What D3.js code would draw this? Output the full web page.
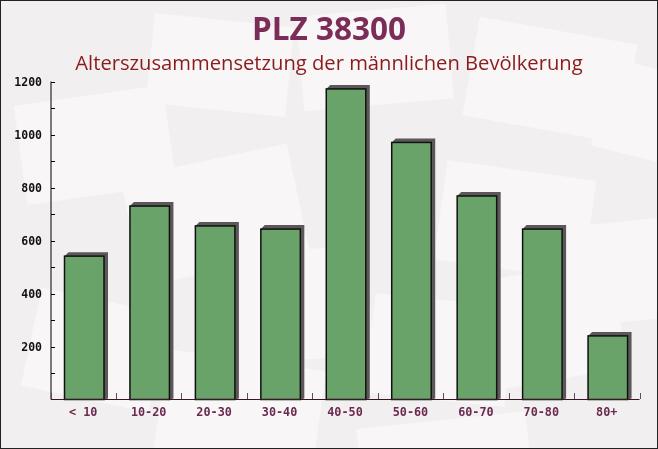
<!DOCTYPE html>
<html>
<head>
<meta charset="utf-8">
<script src="https://cdn.jsdelivr.net/npm/d3@7"></script>
<style>
html,body{margin:0;padding:0;background:#fff;}
svg{display:block;}
</style>
</head>
<body>
<svg id="chart" width="658" height="449"></svg>
<script>
const categories = ["< 10", "10-20", "20-30", "30-40", "40-50", "50-60", "60-70", "70-80", "80+"];
const values = [541, 730, 655, 643, 1172, 970, 768, 643, 240];
const yTicks = [200, 400, 600, 800, 1000, 1200];
const title = "PLZ 38300";
const subtitle = "Alterszusammensetzung der männlichen Bevölkerung";

const W = 658, H = 449;
const svg = d3.select("#chart");

// background
svg.append("rect").attr("width", W).attr("height", H).attr("fill", "#f2eff1");
const deco = svg.append("g").attr("fill", "#fbfafa").attr("opacity", 0.7);
const envs = [
  [20, 95, 150, 100, -8], [150, 20, 140, 90, 6], [300, 10, 150, 95, -5], [470, 30, 160, 100, 10],
  [130, 160, 170, 110, -12], [440, 170, 150, 100, 8], [580, 220, 120, 100, -6],
  [30, 300, 130, 100, 12], [220, 250, 150, 110, -4], [370, 300, 140, 100, 6], [480, 270, 140, 110, -10],
  [160, 360, 160, 100, 8], [360, 420, 170, 80, -6], [600, 70, 110, 90, 14]
];
envs.forEach(e => {
  deco.append("rect").attr("x", e[0]).attr("y", e[1]).attr("width", e[2]).attr("height", e[3])
    .attr("transform", `rotate(${e[4]},${e[0] + e[2] / 2},${e[1] + e[3] / 2})`);
});

// titles
svg.append("text").attr("x", 329).attr("y", 40).attr("text-anchor", "middle")
  .attr("font-family", "'Open Sans', sans-serif").attr("font-weight", "bold").attr("font-size", 31.5)
  .attr("fill", "#7b2c57").text(title);
svg.append("text").attr("x", 329).attr("y", 70).attr("text-anchor", "middle")
  .attr("font-family", "'Open Sans', sans-serif").attr("font-size", 20.2)
  .attr("fill", "#8b1a1a").text(subtitle);

// scales
const x = d3.scaleBand().domain(categories).range([50.5, 639.5]).padding(0);
const y = d3.scaleLinear().domain([0, 1200]).range([399.5, 81.5]);

// y axis
const yAxis = svg.append("g").attr("transform", "translate(51,0)");
yAxis.append("line").attr("x1", 0).attr("x2", 0).attr("y1", y(1200)).attr("y2", y(0))
  .attr("stroke", "#000").attr("stroke-width", 1);
d3.range(100, 1201, 100).forEach(v => {
  yAxis.append("line").attr("x1", 0).attr("x2", 4).attr("y1", Math.round(y(v)) + 0.5).attr("y2", Math.round(y(v)) + 0.5)
    .attr("stroke", "#000").attr("stroke-width", 1);
});
yAxis.selectAll("text.yl").data(yTicks).join("text").attr("class", "yl")
  .attr("x", -9).attr("y", d => y(d) + 4).attr("text-anchor", "end")
  .attr("font-family", "'DejaVu Sans Mono', monospace").attr("font-weight", "bold").attr("font-size", 11.5)
  .attr("fill", "#111").text(d => d);

// bars
const barOff = 14, barW = 39.5, sh = 4;
const bars = svg.append("g");
categories.forEach((c, i) => {
  const x0 = x(c) + barOff, y0 = y(values[i]), y1 = y(0);
  bars.append("path")
    .attr("d", `M${x0},${y0} L${x0 + sh},${y0 - sh} L${x0 + barW + sh},${y0 - sh} L${x0 + barW + sh},${y1 - 1} L${x0 + barW},${y1} L${x0 + barW},${y0} Z`)
    .attr("fill", "#5c585a");
  bars.append("rect").attr("x", x0).attr("y", y0).attr("width", barW).attr("height", y1 - y0)
    .attr("fill", "#64a064").attr("fill-opacity", 0.97).attr("stroke", "#111").attr("stroke-width", 1.5);
});

// x axis
const xAxis = svg.append("g");
xAxis.append("line").attr("x1", 51).attr("x2", 639.5).attr("y1", 399.5).attr("y2", 399.5)
  .attr("stroke", "#3a1526").attr("stroke-width", 1);
d3.range(0, categories.length + 1).forEach(i => {
  const xx = Math.round(50.5 + i * x.step()) + 0.5;
  xAxis.append("line").attr("x1", xx).attr("x2", xx).attr("y1", 393).attr("y2", 399)
    .attr("stroke", "#555").attr("stroke-width", 1);
});
xAxis.selectAll("text.xl").data(categories).join("text").attr("class", "xl")
  .attr("x", d => x(d) + x.bandwidth() / 2).attr("y", 416).attr("text-anchor", "middle")
  .attr("font-family", "'DejaVu Sans Mono', monospace").attr("font-weight", "bold").attr("font-size", 11.8)
  .attr("fill", "#6b2a4f").text(d => d);

// border
svg.append("rect").attr("x", 0.5).attr("y", 0.5).attr("width", W - 1).attr("height", H - 1)
  .attr("fill", "none").attr("stroke", "#222").attr("stroke-width", 1);
</script>
</body>
</html>
